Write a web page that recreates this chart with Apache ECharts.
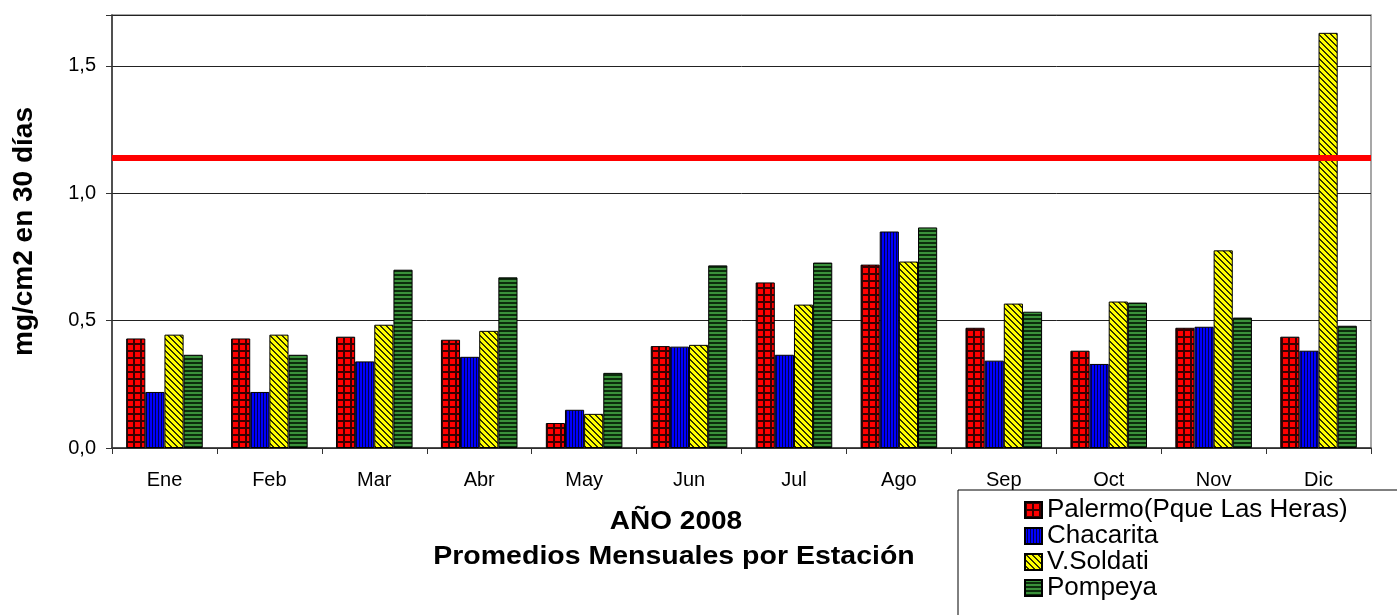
<!DOCTYPE html>
<html>
<head>
    <meta charset="utf-8">
    <style>
        body{
            margin: 0;
            background: #fff;
        }
        #chart-container{
            width: 1397px;
            height: 615px;
        }
    </style>
</head>
<body>
    <div id="chart-container"></div>

    <script type="text/javascript" src="https://cdn.jsdelivr.net/npm/echarts@6.0.0/dist/echarts.min.js"></script>
    <script type="text/javascript">
        // data
        var months = ['Ene', 'Feb', 'Mar', 'Abr', 'May', 'Jun', 'Jul', 'Ago', 'Sep', 'Oct', 'Nov', 'Dic'];
        var palermo = [0.43, 0.43, 0.437, 0.425, 0.098, 0.40, 0.65, 0.72, 0.472, 0.382, 0.472, 0.437];
        var chacarita = [0.22, 0.22, 0.34, 0.358, 0.15, 0.398, 0.366, 0.85, 0.343, 0.33, 0.476, 0.382];
        var soldati = [0.445, 0.445, 0.484, 0.46, 0.134, 0.405, 0.563, 0.732, 0.567, 0.575, 0.776, 1.63];
        var pompeya = [0.366, 0.366, 0.70, 0.67, 0.295, 0.717, 0.728, 0.866, 0.535, 0.571, 0.512, 0.48];
        var limite = 1.142;
        var seriesNames = ['Palermo(Pque Las Heras)', 'Chacarita', 'V.Soldati', 'Pompeya'];

        // small canvas patterns like the excel fills
        function makePattern(w, h, paint) {
            var c = document.createElement('canvas');
            c.width = w; c.height = h;
            var ctx = c.getContext('2d');
            paint(ctx, w, h);
            return { image: c, repeat: 'repeat' };
        }
        var gridRed = makePattern(7, 7, function (ctx, w, h) {
            ctx.fillStyle = '#ff0000';
            ctx.fillRect(0, 0, w, h);
            ctx.fillStyle = '#3a0000';
            ctx.fillRect(0, 0, 2, h);
            ctx.fillRect(0, 0, w, 2);
        });
        var vertBlue = makePattern(3, 1, function (ctx, w, h) {
            ctx.fillStyle = '#0000ff';
            ctx.fillRect(0, 0, w, h);
            ctx.fillStyle = '#000050';
            ctx.fillRect(2, 0, 1, h);
        });
        var diagYellow = makePattern(6, 6, function (ctx, w, h) {
            ctx.fillStyle = '#ffff00';
            ctx.fillRect(0, 0, w, h);
            ctx.fillStyle = '#333300';
            for (var y = 0; y < h; y++) {
                for (var x = 0; x < w; x++) {
                    var d = ((x - y) % 6 + 6) % 6;
                    if (d < 2) ctx.fillRect(x, y, 1, 1);
                }
            }
        });
        var horizGreen = makePattern(1, 4, function (ctx, w, h) {
            ctx.fillStyle = '#3a913a';
            ctx.fillRect(0, 0, w, h);
            ctx.fillStyle = '#0c2d0c';
            ctx.fillRect(0, 2, w, 2);
        });

        function barSeries(name, data, fill) {
            return {
                name: name,
                type: 'bar',
                data: data,
                barGap: 0,
                barCategoryGap: '27%',
                itemStyle: {
                    color: fill,
                    borderColor: '#000',
                    borderWidth: 1
                }
            };
        }

        var chartDom = document.getElementById('chart-container');
        var myChart = echarts.init(chartDom, null, { renderer: 'canvas' });

        var series = [
            barSeries(seriesNames[0], palermo, gridRed),
            barSeries(seriesNames[1], chacarita, vertBlue),
            barSeries(seriesNames[2], soldati, diagYellow),
            barSeries(seriesNames[3], pompeya, horizGreen)
        ];
        // red limit line across the plot
        series[0].markLine = {
            silent: true,
            symbol: ['none', 'none'],
            label: { show: false },
            lineStyle: { color: '#ff0000', width: 6, type: 'solid' },
            data: [{ yAxis: limite }]
        };

        var font = 'Liberation Sans, Arial, sans-serif';
        var option = {
            animation: false,
            textStyle: { fontFamily: font },
            grid: {
                left: 112, right: 26, top: 15, bottom: 167,
                show: true,
                borderColor: '#8a8a8a',
                borderWidth: 1.5
            },
            legend: {
                orient: 'vertical',
                left: 1024,
                top: 497,
                padding: 0,
                itemGap: 0,
                itemWidth: 17,
                itemHeight: 16,
                icon: 'rect',
                data: seriesNames,
                textStyle: { fontSize: 26, color: '#000', fontFamily: font }
            },
            xAxis: {
                type: 'category',
                data: months,
                axisLine: { lineStyle: { color: '#333', width: 1.5 } },
                axisTick: { show: true, length: 6, lineStyle: { color: '#333' } },
                axisLabel: { fontSize: 20, color: '#000', margin: 22 }
            },
            yAxis: {
                type: 'value',
                min: 0,
                max: 1.7,
                interval: 0.5,
                name: 'mg/cm2 en 30 días',
                nameLocation: 'middle',
                nameGap: 74,
                nameTextStyle: { fontSize: 28, fontWeight: 'bold', color: '#000' },
                axisLine: { show: true, lineStyle: { color: '#333', width: 1.5 } },
                axisTick: { show: true, length: 6, lineStyle: { color: '#333' } },
                axisLabel: {
                    fontSize: 20, color: '#000', margin: 16,
                    formatter: function (v) {
                        if (Math.abs(v * 2 - Math.round(v * 2)) > 1e-6) return '';
                        return v.toFixed(1).replace('.', ',');
                    }
                },
                splitLine: { lineStyle: { color: '#222', width: 1 } }
            },
            graphic: [
                {
                    type: 'rect',
                    z: -10,
                    shape: { x: 958, y: 490, width: 450, height: 140 },
                    style: { fill: '#fff', stroke: '#000', lineWidth: 1 }
                },
                {
                    type: 'text',
                    x: 676, y: 522,
                    scaleX: 1.12,
                    style: {
                        text: 'AÑO 2008',
                        fontSize: 25, fontWeight: 'bold', fontFamily: font,
                        fill: '#000', align: 'center', verticalAlign: 'middle'
                    }
                },
                {
                    type: 'text',
                    x: 674, y: 557,
                    scaleX: 1.14,
                    style: {
                        text: 'Promedios Mensuales por Estación',
                        fontSize: 25, fontWeight: 'bold', fontFamily: font,
                        fill: '#000', align: 'center', verticalAlign: 'middle'
                    }
                }
            ],
            series: series
        };
        myChart.setOption(option);
    </script>
</body>
</html>
